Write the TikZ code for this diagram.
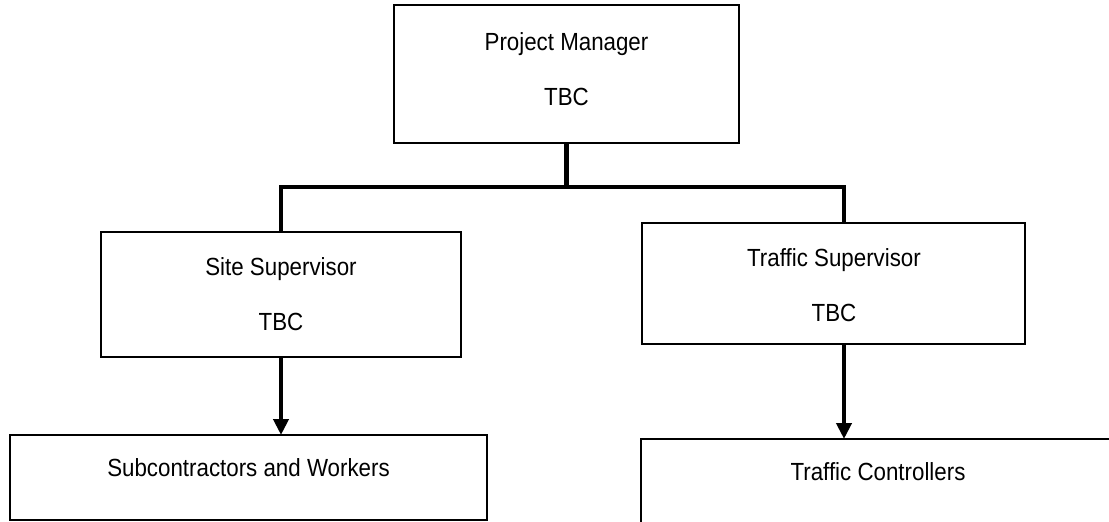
\documentclass[tikz,border=0pt]{standalone}
\usepackage{fontspec}
\setmainfont{Liberation Sans}[FakeStretch=0.9]
\usetikzlibrary{arrows.meta}
\begin{document}
\begin{tikzpicture}[x=1pt,y=-1pt,
  box/.style={draw=black, line width=1.5pt, inner sep=0pt, outer sep=0pt},
  lbl/.style={font=\fontsize{24.8}{55}\selectfont, align=center, inner sep=0pt},
  conn/.style={draw=black, line width=4.5pt, line join=miter},
  arr/.style={conn, -{Triangle[width=15pt,length=16pt]}}]
\useasboundingbox (0,0) rectangle (1109,522);
\clip (0,0) rectangle (1109,522);
% boxes
\node[box, minimum width=345pt, minimum height=138pt] (pm) at (566.5,74) {};
\node[box, minimum width=360pt, minimum height=125pt] (site) at (281,294.5) {};
\node[box, minimum width=383pt, minimum height=121pt] (traf) at (833.5,283.5) {};
\node[box, minimum width=477pt, minimum height=85pt] (sub) at (248.5,477.5) {};
\node[box, minimum width=489pt, minimum height=106pt] (tc) at (885.5,492) {};
% labels
\node[lbl] (pmt) at (566.5,69.5) {Project Manager\\TBC};
\node[lbl] (sitet) at (281,294.5) {Site Supervisor\\TBC};
\node[lbl] (traft) at (834,285) {Traffic Supervisor\\TBC};
\node[lbl] (subt) at (248.5,468) {Subcontractors and Workers};
\node[lbl] (tct) at (878,472) {Traffic Controllers};
% connectors
\coordinate (bus) at (566.5,187);
\coordinate (tx) at (844,0);
\draw[conn] (pm.south) -- (bus);
\draw[conn] (site.north) -- (site.north |- bus) -- (bus -| tx) -- (traf.north -| tx);
\draw[arr] (site.south) -- (site.south |- sub.north);
\draw[arr] (traf.south -| tx) -- (tc.north -| tx);
\end{tikzpicture}
\end{document}
